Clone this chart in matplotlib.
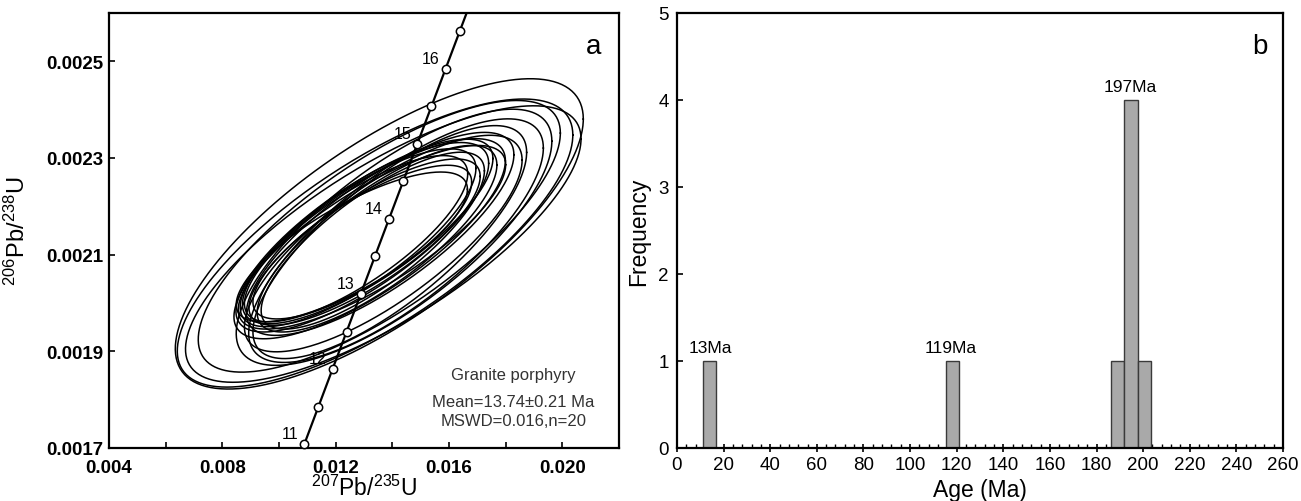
import numpy as np
import matplotlib
matplotlib.use("Agg")
import matplotlib.pyplot as plt
from matplotlib.ticker import MultipleLocator

plt.rcParams["font.family"] = ["Liberation Sans", "DejaVu Sans"]
plt.rcParams["mathtext.fontset"] = "custom"
plt.rcParams["mathtext.rm"] = "Liberation Sans"
plt.rcParams["mathtext.it"] = "Liberation Sans:italic"
plt.rcParams["mathtext.bf"] = "Liberation Sans:bold"

# ---------- panel a: concordia + error ellipses ----------------------------
LAMBDA_238 = 1.55125e-10   # 1/yr
LAMBDA_235 = 9.8485e-10    # 1/yr
conc_marker_ages = [11, 11.5, 12, 12.5, 13, 13.5, 14, 14.5, 15, 15.5, 16, 16.5]
conc_label_ages = [11, 12, 13, 14, 15, 16]

# ellipse centre, half-extent in x / y, correlation
ell_cx = [0.01354, 0.01339, 0.01368, 0.01354, 0.01406, 0.01413, 0.01391,
          0.01368, 0.01320, 0.01294, 0.01328, 0.01279, 0.01313, 0.01272,
          0.01302, 0.01294, 0.01257, 0.01346, 0.01357, 0.01331]
ell_cy = [0.002143, 0.002124, 0.002122, 0.002138, 0.002136, 0.002129, 0.002126,
          0.002123, 0.002133, 0.002136, 0.002136, 0.002135, 0.002148, 0.002133,
          0.002126, 0.002126, 0.002116, 0.002133, 0.002143, 0.002129]
ell_sx = [0.00720, 0.00698, 0.00698, 0.00639, 0.00557, 0.00520, 0.00483,
          0.00490, 0.00479, 0.00446, 0.00472, 0.00416, 0.00442, 0.00394,
          0.00408, 0.00386, 0.00408, 0.00423, 0.00472, 0.00394]
ell_sy = [0.000321, 0.000298, 0.000286, 0.000281, 0.000265, 0.000252, 0.000241,
          0.000224, 0.000207, 0.000196, 0.000190, 0.000184, 0.000191, 0.000172,
          0.000172, 0.000159, 0.000155, 0.000193, 0.000210, 0.000183]
ell_rho = [0.74, 0.75, 0.76, 0.76, 0.75, 0.76, 0.77, 0.77, 0.78, 0.78,
           0.79, 0.78, 0.79, 0.78, 0.79, 0.78, 0.77, 0.79, 0.78, 0.79]

a_xticks = [0.004, 0.008, 0.012, 0.016, 0.020]
a_xticklabels = ["0.004", "0.008", "0.012", "0.016", "0.020"]
a_yticks = [0.0017, 0.0019, 0.0021, 0.0023, 0.0025]
a_yticklabels = ["0.0017", "0.0019", "0.0021", "0.0023", "0.0025"]
a_notes = ["Granite porphyry", "Mean=13.74\u00b10.21 Ma", "MSWD=0.016,n=20"]

# ---------- panel b: age histogram -----------------------------------------
bin_left = [11.0, 115.3, 186.1, 191.9, 197.7]
bin_count = [1, 1, 1, 4, 1]
bin_width = 5.8
peak_labels = ["13Ma", "119Ma", "197Ma"]
peak_x = [14.5, 117.5, 194.5]
peak_y = [1, 1, 4]
b_xticks = list(range(0, 261, 20))
b_yticks = [0, 1, 2, 3, 4, 5]

fig = plt.figure(figsize=(13.01, 5.02), dpi=100)
ax1 = fig.add_axes([109 / 1301, 53 / 502, 510 / 1301, 435 / 502])
ax2 = fig.add_axes([677 / 1301, 53 / 502, 606 / 1301, 435 / 502])

# --- error ellipses
t = np.linspace(0, 2 * np.pi, 300)
for cx, cy, sx, sy, r in zip(ell_cx, ell_cy, ell_sx, ell_sy, ell_rho):
    ex = cx + sx * np.cos(t)
    ey = cy + sy * (r * np.cos(t) + np.sqrt(1 - r ** 2) * np.sin(t))
    ax1.plot(ex, ey, color="black", lw=1.1)

# --- concordia curve
ages = np.linspace(10, 18, 200) * 1e6
ax1.plot(np.expm1(LAMBDA_235 * ages), np.expm1(LAMBDA_238 * ages),
         color="black", lw=1.6, zorder=3)
m_ages = np.array(conc_marker_ages) * 1e6
ax1.plot(np.expm1(LAMBDA_235 * m_ages), np.expm1(LAMBDA_238 * m_ages), "o",
         ms=6, mfc="white", mec="black", mew=1.1, zorder=4, clip_on=False)
for a in conc_label_ages:
    xx, yy = np.expm1(LAMBDA_235 * a * 1e6), np.expm1(LAMBDA_238 * a * 1e6)
    ax1.annotate(str(a), (xx, yy), xytext=(-6, 3), textcoords="offset pixels",
                 ha="right", va="bottom", fontsize=11.5, zorder=5)

ax1.set_xlim(0.004, 0.022)
ax1.set_ylim(0.0017, 0.0026)
ax1.set_xticks(a_xticks, a_xticklabels)
ax1.xaxis.set_minor_locator(MultipleLocator(0.002))
ax1.set_yticks(a_yticks, a_yticklabels)
ax1.tick_params(which="both", direction="in", length=4, width=1.2)
ax1.tick_params(axis="x", pad=8)
ax1.tick_params(axis="y", pad=4)
for lab in ax1.get_xticklabels() + ax1.get_yticklabels():
    lab.set_fontsize(13.5)
    lab.set_fontweight("bold")
for sp in ax1.spines.values():
    sp.set_linewidth(1.6)

ax1.set_xlabel("$^{207}$Pb/$^{235}$U", fontsize=16.5)
ax1.xaxis.set_label_coords(0.5, -0.062)
ax1.set_ylabel("$^{206}$Pb/$^{238}$U", fontsize=17)
ax1.yaxis.set_label_coords(-0.155, 0.5)
ax1.text(0.965, 0.955, "a", transform=ax1.transAxes, ha="right", va="top",
         fontsize=20)
for yy, note in zip([0.168, 0.106, 0.063], a_notes):
    ax1.text(0.793, yy, note, transform=ax1.transAxes, ha="center",
             va="center", fontsize=12, color="#333333")

# --- histogram
ax2.bar(bin_left, bin_count, width=bin_width, align="edge", color="#a9a9a9",
        edgecolor="#3a3a3a", linewidth=1.0, zorder=2)
for lab, xx, yy in zip(peak_labels, peak_x, peak_y):
    ax2.text(xx, yy + 0.07, lab, ha="center", va="bottom", fontsize=12.5)

ax2.set_xlim(0, 260)
ax2.set_ylim(0, 5)
ax2.set_xticks(b_xticks)
ax2.xaxis.set_minor_locator(MultipleLocator(4))
ax2.set_yticks(b_yticks)
ax2.tick_params(axis="x", which="major", direction="inout", length=6,
                width=1.2, labelsize=13.5, pad=3)
ax2.tick_params(axis="x", which="minor", direction="in", length=3, width=1.0)
ax2.tick_params(axis="y", direction="in", length=4, width=1.2,
                labelsize=13.5, pad=6)
for sp in ax2.spines.values():
    sp.set_linewidth(1.6)
ax2.set_xlabel("Age (Ma)", fontsize=16.5)
ax2.xaxis.set_label_coords(0.5, -0.07)
ax2.set_ylabel("Frequency", fontsize=16.5)
ax2.yaxis.set_label_coords(-0.045, 0.5)
ax2.text(0.975, 0.955, "b", transform=ax2.transAxes, ha="right", va="top",
         fontsize=20)

fig.savefig("out.png", dpi=100)
